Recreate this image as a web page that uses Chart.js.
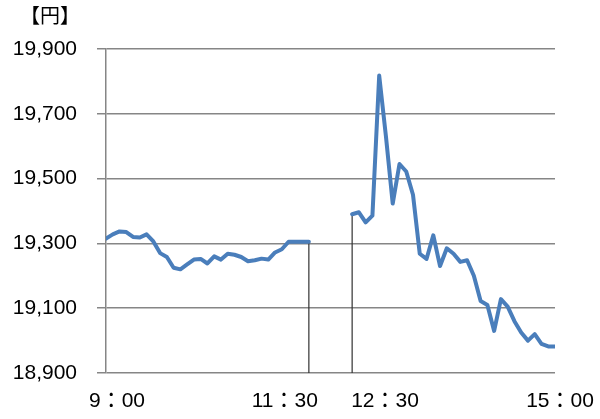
<!DOCTYPE html>
<html>
<head>
<meta charset="utf-8">
<script src="https://cdn.jsdelivr.net/npm/chart.js@4.4.0/dist/chart.umd.min.js"></script>
<style>
  html, body { margin: 0; padding: 0; background: #fff; }
  #wrap { width: 600px; height: 419px; }
</style>
</head>
<body>
<div id="wrap"><canvas id="priceChart"></canvas></div>
<script>
// 5-minute prices, morning session 9:00-11:30 and afternoon 12:30-15:00
const amValues = [
  19315, 19328, 19337, 19335, 19320, 19318, 19328, 19306, 19270, 19258,
  19225, 19220, 19235, 19250, 19252, 19238, 19260, 19250, 19268, 19265,
  19258, 19245, 19248, 19253, 19250, 19272, 19282, 19305, 19305, 19305, 19305
];
const pmValues = [
  19390, 19396, 19365, 19386, 19818, 19630, 19423, 19545, 19522, 19450,
  19268, 19252, 19325, 19230, 19285, 19268, 19243, 19248, 19200, 19122,
  19110, 19030, 19128, 19105, 19060, 19025, 19000, 19020, 18990, 18982, 18982
];
const timeTicks = ["9：00", "11：30", "12：30", "15：00"];
const yTicks = [18900, 19100, 19300, 19500, 19700, 19900];
const unitLabel = "【円】";

// axis in minutes, lunch break squeezed to 32 min
const LUNCH = 32;
const amStart = 0, amEnd = 150, pmStart = 150 + LUNCH, pmEnd = pmStart + 150;
const tickPos = [amStart, amEnd, pmStart, pmEnd];

const amData = amValues.map((v, i) => ({ x: amStart + i * 5, y: v }));
const pmData = pmValues.map((v, i) => ({ x: pmStart + i * 5, y: v }));

const blue = "#4a7ebb";

const labelsPlugin = {
  id: "labels",
  afterDraw(chart) {
    const ctx = chart.ctx;
    const xs = chart.scales.x;
    ctx.save();
    ctx.fillStyle = "#000";
    ctx.font = '21px "Liberation Sans", "Noto Sans CJK JP", sans-serif';
    ctx.textBaseline = "middle";
    // each time label sits a bit differently, like the original text boxes
    const place = [["left", -17], ["right", 9], ["left", -1], ["center", 5]];
    timeTicks.forEach((t, i) => {
      ctx.textAlign = place[i][0];
      ctx.fillText(t, xs.getPixelForValue(tickPos[i]) + place[i][1], 401);
    });
    ctx.font = '20px "Noto Sans CJK JP", sans-serif';
    ctx.textAlign = "left";
    ctx.fillText(unitLabel, 20, 15);
    ctx.restore();
  }
};

const ctx = document.getElementById("priceChart").getContext("2d");
const priceChart = new Chart(ctx, {
  type: "line",
  data: {
    datasets: [
      {
        data: amData,
        borderColor: blue,
        borderWidth: 4,
        borderJoinStyle: "round",
        borderCapStyle: "round",
        pointRadius: 0,
        tension: 0,
      },
      {
        data: pmData,
        borderColor: blue,
        borderWidth: 4,
        borderJoinStyle: "round",
        borderCapStyle: "round",
        pointRadius: 0,
        tension: 0,
      },
      {
        // drop line at the morning close
        data: [{ x: amEnd, y: amValues[amValues.length - 1] }, { x: amEnd, y: 18900 }],
        borderColor: "#333",
        borderWidth: 1.2,
        pointRadius: 0,
      },
      {
        // drop line at the afternoon open
        data: [{ x: pmStart, y: pmValues[0] }, { x: pmStart, y: 18900 }],
        borderColor: "#333",
        borderWidth: 1.2,
        pointRadius: 0,
      },
    ],
  },
  options: {
    responsive: true,
    maintainAspectRatio: false,
    animation: false,
    layout: { padding: { top: 49, right: 45, left: 0, bottom: 0 } },
    scales: {
      x: {
        type: "linear",
        min: amStart,
        max: pmEnd,
        grid: { display: false },
        border: { display: false },
        ticks: { display: false },
        afterFit: (scale) => { scale.height = 46; },
      },
      y: {
        min: 18900,
        max: 19900,
        afterBuildTicks: (scale) => {
          scale.ticks = yTicks.map((v) => ({ value: v }));
        },
        grid: {
          color: "#868686",
          lineWidth: 1.5,
          tickLength: 9,
        },
        border: { color: "#868686", width: 1.5 },
        ticks: {
          color: "#000",
          padding: 20,
          font: { family: '"Liberation Sans", sans-serif', size: 21 },
          callback: (v) => v.toLocaleString("en-US"),
        },
        afterFit: (scale) => { scale.width = 106; },
      },
    },
    plugins: {
      legend: { display: false },
      tooltip: { enabled: false },
    },
  },
  plugins: [labelsPlugin],
});
</script>
</body>
</html>
